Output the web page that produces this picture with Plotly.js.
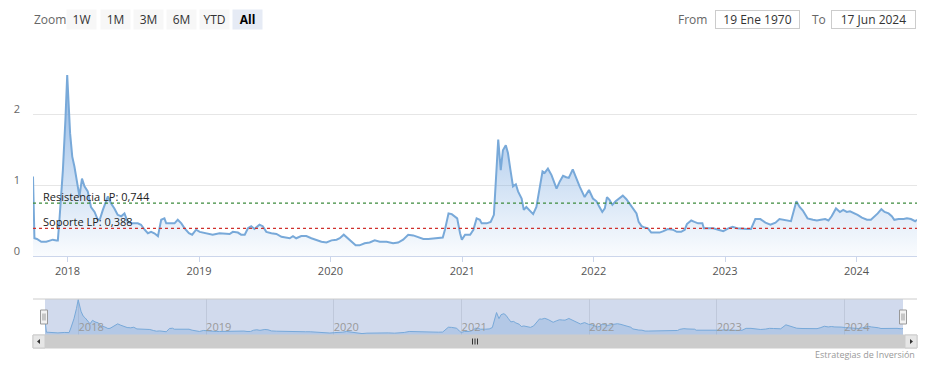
<!DOCTYPE html>
<html>
<head>
<meta charset="utf-8">
<script src="https://cdn.plot.ly/plotly-3.0.1.min.js"></script>
<style>
html,body{margin:0;padding:0;background:#fff;}
#chart{width:932px;height:370px;}
</style>
</head>
<body>
<div id="chart"></div>
<script>
const dates = [
'2017-09-27','2017-10-01','2017-10-08','2017-10-20','2017-11-03','2017-11-21','2017-12-01','2017-12-05','2017-12-10','2017-12-19',
'2017-12-26','2017-12-31','2018-01-08','2018-01-14','2018-01-20','2018-01-28','2018-02-03','2018-02-10','2018-02-17','2018-02-26',
'2018-03-07','2018-03-17','2018-03-26','2018-04-01','2018-04-09','2018-04-23','2018-05-02','2018-05-11','2018-05-20','2018-05-30',
'2018-06-08','2018-06-17','2018-07-01','2018-07-15','2018-07-24','2018-08-03','2018-08-12','2018-08-21','2018-08-30','2018-09-09',
'2018-09-18','2018-09-27','2018-10-02','2018-10-11','2018-10-25','2018-11-03','2018-11-13','2018-11-22','2018-12-04','2018-12-13',
'2018-12-24','2019-01-03','2019-01-12','2019-01-30','2019-02-08','2019-02-27','2019-03-27','2019-04-05','2019-04-19','2019-04-28',
'2019-05-08','2019-05-17','2019-05-26','2019-06-04','2019-06-18','2019-06-27','2019-07-07','2019-07-21','2019-08-04','2019-08-18',
'2019-09-01','2019-09-10','2019-09-19','2019-09-28','2019-10-12','2019-10-26','2019-11-09','2019-11-23','2019-12-07','2019-12-21',
'2020-01-04','2020-01-18','2020-01-27','2020-02-07','2020-02-19','2020-02-28','2020-03-11','2020-03-22','2020-04-05','2020-04-19',
'2020-05-03','2020-05-17','2020-06-05','2020-06-23','2020-07-07','2020-07-21','2020-08-04','2020-08-18','2020-09-01','2020-09-15',
'2020-09-29','2020-10-13','2020-10-27','2020-11-08','2020-11-14','2020-11-24','2020-12-03','2020-12-12','2020-12-18','2020-12-26',
'2020-12-31','2021-01-09','2021-01-23','2021-02-01','2021-02-10','2021-02-19','2021-02-24','2021-03-10','2021-03-21','2021-03-30',
'2021-04-04','2021-04-11','2021-04-18','2021-04-24','2021-05-02','2021-05-08','2021-05-15','2021-05-22','2021-05-30','2021-06-05',
'2021-06-15','2021-06-21','2021-06-28','2021-07-08','2021-07-17','2021-07-26','2021-08-04','2021-08-12','2021-08-18','2021-08-27',
'2021-09-06','2021-09-20','2021-09-29','2021-10-08','2021-10-17','2021-10-24','2021-11-04','2021-11-14','2021-11-23','2021-12-07',
'2021-12-19','2021-12-30','2022-01-09','2022-01-16','2022-01-25','2022-02-01','2022-02-07','2022-02-14','2022-02-22','2022-03-03',
'2022-03-14','2022-03-23','2022-04-02','2022-04-11','2022-04-20','2022-04-30','2022-05-06','2022-05-14','2022-05-23','2022-06-01',
'2022-06-10','2022-06-19','2022-07-03','2022-07-14','2022-07-26','2022-08-09','2022-08-20','2022-09-01','2022-09-11','2022-09-17',
'2022-09-29','2022-10-08','2022-10-18','2022-10-30','2022-11-03','2022-11-15','2022-11-29','2022-12-13','2022-12-27','2023-01-10',
'2023-01-22','2023-02-03','2023-02-17','2023-03-03','2023-03-14','2023-03-26','2023-04-09','2023-04-23','2023-05-07','2023-05-21',
'2023-06-01','2023-06-13','2023-06-22','2023-07-03','2023-07-18','2023-07-27','2023-08-05','2023-08-18','2023-09-02','2023-09-13',
'2023-09-24','2023-10-06','2023-10-15','2023-10-24','2023-11-05','2023-11-16','2023-11-25','2023-12-05','2023-12-14','2023-12-23',
'2024-01-04','2024-01-16','2024-01-30','2024-02-10','2024-02-22','2024-02-29','2024-03-10','2024-03-19','2024-03-30','2024-04-08',
'2024-04-15','2024-04-27','2024-05-11','2024-05-20','2024-05-31','2024-06-12','2024-06-17'
];
const values = [
1.12,0.25,0.24,0.20,0.20,0.23,0.22,0.22,0.55,1.21,
1.92,2.55,1.73,1.40,1.26,0.98,0.84,1.09,0.98,0.91,
0.69,0.62,0.51,0.52,0.65,0.84,0.74,0.67,0.58,0.56,
0.60,0.48,0.46,0.46,0.44,0.37,0.32,0.34,0.32,0.28,
0.51,0.53,0.46,0.46,0.46,0.51,0.46,0.39,0.32,0.30,
0.37,0.34,0.33,0.30,0.30,0.32,0.31,0.34,0.33,0.30,
0.30,0.39,0.42,0.38,0.44,0.42,0.34,0.32,0.31,0.27,
0.26,0.25,0.28,0.25,0.28,0.28,0.25,0.22,0.20,0.19,
0.22,0.23,0.25,0.30,0.25,0.20,0.15,0.15,0.18,0.19,
0.22,0.20,0.20,0.18,0.19,0.23,0.30,0.29,0.26,0.24,
0.24,0.25,0.25,0.26,0.37,0.60,0.59,0.55,0.53,0.32,
0.23,0.30,0.30,0.37,0.53,0.51,0.46,0.46,0.48,0.58,
1.07,1.64,1.21,1.49,1.56,1.45,1.21,0.98,1.01,0.91,
0.81,0.65,0.69,0.63,0.59,0.69,0.95,1.19,1.17,1.23,
1.14,0.95,1.05,1.13,1.11,1.10,1.22,1.09,0.98,0.83,
0.93,0.81,0.77,0.70,0.62,0.67,0.83,0.79,0.72,0.77,
0.81,0.85,0.80,0.74,0.67,0.60,0.48,0.42,0.40,0.39,
0.33,0.33,0.33,0.35,0.38,0.37,0.34,0.34,0.37,0.45,
0.50,0.48,0.46,0.46,0.39,0.39,0.39,0.37,0.35,0.39,
0.41,0.39,0.38,0.38,0.38,0.52,0.52,0.47,0.44,0.47,
0.52,0.51,0.50,0.49,0.77,0.69,0.64,0.53,0.51,0.50,
0.51,0.52,0.50,0.56,0.67,0.62,0.65,0.62,0.63,0.61,
0.58,0.54,0.51,0.51,0.56,0.60,0.66,0.62,0.60,0.56,
0.51,0.52,0.52,0.53,0.52,0.49,0.51
];
const resistencia = 0.744;
const soporte = 0.388;
const resistenciaLabel = 'Resistencia LP: 0,744';
const soporteLabel = 'Soporte LP: 0,388';
const yearTicks = ['2018-01-01','2019-01-01','2020-01-01','2021-01-01','2022-01-01','2023-01-01','2024-01-01'];
const yearLabels = ['2018','2019','2020','2021','2022','2023','2024'];
const yTicks = [0,1,2,3];
const yLabels = ['0','1','2',''];
const zoomButtons = ['1W','1M','3M','6M','YTD','All'];
const fromText = '19 Ene 1970';
const toText = '17 Jun 2024';
const creditText = 'Estrategias de Inversión';

// geometry helpers (pixel -> paper)
const L = 33, R = 917, T = 43, B = 335, W = R - L, H = B - T;
const px = x => (x - L) / W;
const py = y => (B - y) / H;

const FONT = '"Open Sans", "Liberation Sans", sans-serif';
const LINE = '#78a9d9';
const xRange = [dates[0], dates[dates.length - 1]];

const traces = [
  {
    x: dates, y: values, type: 'scatter', mode: 'lines',
    line: {color: LINE, width: 2},
    fill: 'tozeroy',
    fillgradient: {type: 'vertical', start: 0, stop: 2.6,
      colorscale: [[0, 'rgba(120,170,225,0.04)'], [1, 'rgba(110,160,220,0.8)']]},
    xaxis: 'x', yaxis: 'y', hoverinfo: 'skip', showlegend: false
  },
  {
    x: dates, y: values, type: 'scatter', mode: 'lines',
    line: {color: LINE, width: 1},
    fill: 'tozeroy', fillcolor: 'rgba(110,160,215,0.3)',
    xaxis: 'x2', yaxis: 'y2', hoverinfo: 'skip', showlegend: false
  }
];

const shapes = [
  {type: 'line', xref: 'x domain', x0: 0, x1: 1, yref: 'y', y0: resistencia, y1: resistencia,
   line: {color: '#3d8b3d', width: 1.2, dash: 'dot'}},
  {type: 'line', xref: 'x domain', x0: 0, x1: 1, yref: 'y', y0: soporte, y1: soporte,
   line: {color: '#d0312d', width: 1.2, dash: 'dot'}},
  // navigator mask
  {type: 'rect', xref: 'paper', yref: 'paper', x0: px(45), x1: px(903), y0: py(335), y1: py(299),
   fillcolor: 'rgba(102,133,194,0.3)', line: {width: 0}, layer: 'below'},
  // navigator outline
  {type: 'line', xref: 'paper', yref: 'paper', x0: px(33), x1: px(917), y0: py(299), y1: py(299),
   line: {color: '#cccccc', width: 1}},
  // scrollbar
  {type: 'rect', xref: 'paper', yref: 'paper', x0: px(33), x1: px(917), y0: py(335), y1: py(348),
   fillcolor: '#cccccc', line: {color: '#cccccc', width: 1}},
  {type: 'rect', xref: 'paper', yref: 'paper', x0: px(33), x1: px(45), y0: py(335), y1: py(348),
   fillcolor: '#e6e6e6', line: {color: '#cccccc', width: 1}},
  {type: 'rect', xref: 'paper', yref: 'paper', x0: px(905), x1: px(917), y0: py(335), y1: py(348),
   fillcolor: '#e6e6e6', line: {color: '#cccccc', width: 1}},
  {type: 'path', xref: 'paper', yref: 'paper',
   path: `M ${px(37)} ${py(341.5)} L ${px(40)} ${py(339)} L ${px(40)} ${py(344)} Z`,
   fillcolor: '#333', line: {width: 0}},
  {type: 'path', xref: 'paper', yref: 'paper',
   path: `M ${px(913)} ${py(341.5)} L ${px(910)} ${py(339)} L ${px(910)} ${py(344)} Z`,
   fillcolor: '#333', line: {width: 0}},
];
// scrollbar grip
[472.5, 475, 477.5].forEach(x => shapes.push({type: 'line', xref: 'paper', yref: 'paper',
  x0: px(x), x1: px(x), y0: py(338.5), y1: py(344.5), line: {color: '#333', width: 1}}));
// navigator handles
[44, 903].forEach(cx => {
  shapes.push({type: 'rect', xref: 'paper', yref: 'paper', x0: px(cx - 3.5), x1: px(cx + 3.5),
    y0: py(310), y1: py(324), fillcolor: '#f2f2f2', line: {color: '#999999', width: 1}});
  [cx - 1, cx + 1].forEach(gx => shapes.push({type: 'line', xref: 'paper', yref: 'paper',
    x0: px(gx), x1: px(gx), y0: py(313.5), y1: py(320.5), line: {color: '#999999', width: 1}}));
});

const annotations = [
  {xref: 'paper', yref: 'y', x: px(41), y: resistencia, xanchor: 'left', yanchor: 'middle', yshift: 7,
   text: resistenciaLabel, showarrow: false, font: {family: FONT, size: 11, color: '#222'}},
  {xref: 'paper', yref: 'y', x: px(41), y: soporte, xanchor: 'left', yanchor: 'middle', yshift: 7,
   text: soporteLabel, showarrow: false, font: {family: FONT, size: 11, color: '#222'}},
  {xref: 'paper', yref: 'paper', x: px(32), y: py(19.5), xanchor: 'left', yanchor: 'middle',
   text: 'Zoom', showarrow: false, font: {family: FONT, size: 12, color: '#666'}},
  {xref: 'paper', yref: 'paper', x: px(709), y: py(19.5), xanchor: 'right', yanchor: 'middle',
   text: 'From', showarrow: false, font: {family: FONT, size: 12, color: '#666'}},
  {xref: 'paper', yref: 'paper', x: px(757.5), y: py(19.5), xanchor: 'center', yanchor: 'middle',
   width: 83, height: 17, borderpad: 0, bordercolor: '#cccccc', borderwidth: 1, bgcolor: '#ffffff',
   text: fromText, showarrow: false, font: {family: FONT, size: 12, color: '#333'}},
  {xref: 'paper', yref: 'paper', x: px(810), y: py(19.5), xanchor: 'left', yanchor: 'middle',
   text: 'To', showarrow: false, font: {family: FONT, size: 12, color: '#666'}},
  {xref: 'paper', yref: 'paper', x: px(873.5), y: py(19.5), xanchor: 'center', yanchor: 'middle',
   width: 83, height: 17, borderpad: 0, bordercolor: '#cccccc', borderwidth: 1, bgcolor: '#ffffff',
   text: toText, showarrow: false, font: {family: FONT, size: 12, color: '#333'}},
  {xref: 'paper', yref: 'paper', x: px(917), y: py(354), xanchor: 'right', yanchor: 'middle',
   text: creditText, showarrow: false, font: {family: FONT, size: 9, color: '#999'}},
];
const btnCenters = [81.5, 115, 148, 181, 214.5, 247.5];
zoomButtons.forEach((b, i) => {
  const active = b === 'All';
  annotations.push({xref: 'paper', yref: 'paper', x: px(btnCenters[i]), y: py(19.5),
    xanchor: 'center', yanchor: 'middle', width: 29, height: 19, borderpad: 0,
    bgcolor: active ? '#e6ebf5' : '#f7f7f7', text: active ? '<b>' + b + '</b>' : b, showarrow: false,
    font: {family: FONT, size: 12, color: active ? '#000' : '#333'}});
});

const layout = {
  width: 932, height: 370,
  margin: {l: L, r: 932 - R, t: T, b: 370 - B, pad: 0},
  paper_bgcolor: '#fff', plot_bgcolor: 'rgba(0,0,0,0)',
  font: {family: FONT, size: 11, color: '#666'},
  showlegend: false,
  xaxis: {
    type: 'date', range: xRange, domain: [0, 1], anchor: 'y',
    tickmode: 'array', tickvals: yearTicks, ticktext: yearLabels,
    ticks: 'outside', ticklen: 5, tickcolor: '#ccd6eb', tickwidth: 1,
    showline: true, linecolor: '#ccd6eb', linewidth: 1,
    showgrid: false, zeroline: false, fixedrange: true,
    tickfont: {family: FONT, size: 11, color: '#555'}
  },
  yaxis: {
    domain: [py(256), 1], range: [0, 3], anchor: 'x',
    tickmode: 'array', tickvals: yTicks, ticktext: yLabels,
    showgrid: true, gridcolor: '#e6e6e6', gridwidth: 1,
    zeroline: false, showline: false, ticks: '',
    ticklabelstandoff: 12, ticklabelshift: -5, fixedrange: true,
    tickfont: {family: FONT, size: 11, color: '#666'}
  },
  xaxis2: {
    type: 'date', range: xRange, domain: [px(45), px(903)], anchor: 'y2',
    tickmode: 'array', tickvals: yearTicks, ticktext: yearLabels,
    ticklabelposition: 'inside right', ticklabelstandoff: -4, ticks: '',
    showgrid: true, gridcolor: 'rgba(120,130,150,0.2)', gridwidth: 1,
    showline: false, zeroline: false, fixedrange: true,
    tickfont: {family: FONT, size: 11, color: '#999'}
  },
  yaxis2: {
    domain: [0, py(299)], range: [0.05, 2.6], anchor: 'x2',
    showgrid: false, zeroline: false, showticklabels: false, showline: false, ticks: '', fixedrange: true
  },
  shapes: shapes,
  annotations: annotations
};

Plotly.newPlot('chart', traces, layout, {displayModeBar: false, staticPlot: true});
</script>
</body>
</html>
